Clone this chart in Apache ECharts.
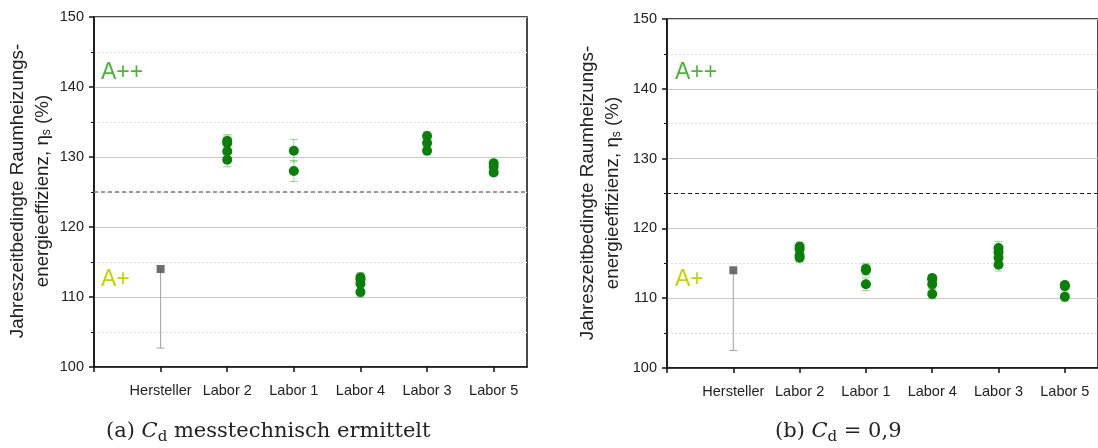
<!DOCTYPE html>
<html><head><meta charset="utf-8">
<script src="https://cdn.jsdelivr.net/npm/echarts@6/dist/echarts.min.js"></script>
<style>html,body{margin:0;padding:0;background:#fff}#c{width:1098px;height:448px}</style>
</head><body><div id="c"></div>
<script>
// ---- data ----
const categories = ['Hersteller', 'Labor 2', 'Labor 1', 'Labor 4', 'Labor 3', 'Labor 5'];
const yTicks = [100, 110, 120, 130, 140, 150];
const threshold = 125;

// Panel (a): Cd messtechnisch ermittelt
const herstellerA = 114.0;
const herstellerLowA = 102.7;
const labValuesA = [
  [132.3, 132.0, 130.8, 129.6], // Labor 2
  [130.9, 128.0],               // Labor 1
  [112.8, 112.5, 111.9, 110.7], // Labor 4
  [133.0, 132.0, 130.9],        // Labor 3
  [129.1, 128.6, 127.8]         // Labor 5
];
const labErrA = [
  [0.9, 1.0, 1.0, 1.0],
  [1.6, 1.5],
  [0.7, 0.7, 0.8, 0.7],
  [0.6, 0.6, 0.6],
  [0.5, 0.5, 0.5]
];

// Panel (b): Cd = 0,9
const herstellerB = 114.0;
const herstellerLowB = 102.5;
const labValuesB = [
  [117.4, 117.0, 116.1, 115.8], // Labor 2
  [114.2, 114.0, 112.0],        // Labor 1
  [112.9, 112.7, 112.0, 110.6], // Labor 4
  [117.2, 116.6, 115.8, 114.8], // Labor 3
  [111.9, 111.7, 110.2]         // Labor 5
];
const labErrB = [
  [0.6, 0.6, 0.6, 0.6],
  [0.8, 0.8, 0.9],
  [0.5, 0.5, 0.6, 0.7],
  [0.9, 0.9, 0.9, 0.9],
  [0.5, 0.5, 0.7]
];

// ---- build ----
const chart = echarts.init(document.getElementById('c'));
const FONT = '"Liberation Sans", Arial, sans-serif';

function labPoints(vals) {
  const out = [];
  vals.forEach((arr, i) => arr.forEach(v => out.push([i + 2, v])));
  return out;
}
function labErrors(vals, errs) {
  const out = [];
  vals.forEach((arr, i) => arr.forEach((v, j) => out.push([i + 2, v - errs[i][j], v + errs[i][j]])));
  return out;
}
function errRender(color, capTop) {
  return function (params, api) {
    const x = api.value(0), lo = api.value(1), hi = api.value(2);
    const pLo = api.coord([x, lo]), pHi = api.coord([x, hi]);
    const w = 4;
    const style = { stroke: color, lineWidth: 1 };
    const children = [
      { type: 'line', shape: { x1: pLo[0], y1: pLo[1], x2: pHi[0], y2: pHi[1] }, style },
      { type: 'line', shape: { x1: pLo[0] - w, y1: pLo[1], x2: pLo[0] + w, y2: pLo[1] }, style }
    ];
    if (capTop) children.push({ type: 'line', shape: { x1: pHi[0] - w, y1: pHi[1], x2: pHi[0] + w, y2: pHi[1] }, style });
    return { type: 'group', children };
  };
}

const grids = [
  { left: 94, top: 17, width: 433, height: 350 },
  { left: 667, top: 19, width: 436, height: 349 }
];

function xAxis(idx) {
  return {
    type: 'value', gridIndex: idx, min: 0, max: 6.5, interval: 1,
    axisLine: { show: true, lineStyle: { color: '#111', width: 1.5 } },
    axisTick: { show: true, inside: false, length: 5, lineStyle: { color: '#111', width: 1.5 } },
    axisLabel: {
      margin: 16, fontFamily: FONT, fontSize: 14.5, color: '#222', showMaxLabel: false,
      formatter: v => (v >= 1 && v <= categories.length && Number.isInteger(v)) ? categories[v - 1] : ''
    },
    splitLine: { show: false }
  };
}
function yAxis(idx) {
  return {
    type: 'value', gridIndex: idx, min: yTicks[0], max: yTicks[yTicks.length - 1], interval: yTicks[1] - yTicks[0],
    axisLine: { show: true, lineStyle: { color: '#111', width: 1.5 } },
    axisTick: { show: true, length: 5, lineStyle: { color: '#111', width: 1.5 } },
    minorTick: { show: true, splitNumber: 2, length: 3, lineStyle: { color: '#111', width: 1 } },
    axisLabel: { margin: 10, fontFamily: FONT, fontSize: 14.5, color: '#222' },
    splitLine: { show: true, lineStyle: { color: '#c8c8c8', width: 1 } },
    minorSplitLine: { show: true, lineStyle: { color: '#dedede', width: 1, type: [2, 2] } }
  };
}

function panelSeries(idx, hVal, hLow, vals, errs, dashColor, dashWidth) {
  return [
    {
      type: 'custom', xAxisIndex: idx, yAxisIndex: idx, silent: true, z: 2,
      renderItem: errRender('rgba(40,160,40,0.45)', true),
      data: labErrors(vals, errs)
    },
    {
      type: 'custom', xAxisIndex: idx, yAxisIndex: idx, silent: true, z: 2,
      renderItem: errRender('#a0a0a0', false),
      data: [[1, hLow, hVal]]
    },
    {
      type: 'scatter', xAxisIndex: idx, yAxisIndex: idx, z: 4,
      symbol: 'circle', symbolSize: 10,
      itemStyle: { color: '#0a7f0a', opacity: 1 },
      data: labPoints(vals),
      markLine: {
        silent: true, symbol: 'none', label: { show: false },
        lineStyle: { color: dashColor, width: dashWidth, type: [4, 3] },
        data: [{ yAxis: threshold }]
      }
    },
    {
      type: 'scatter', xAxisIndex: idx, yAxisIndex: idx, z: 4,
      symbol: 'rect', symbolSize: 8,
      itemStyle: { color: '#4a4a4a' },
      data: [[1, hVal]]
    }
  ];
}

const yName = '{a|Jahreszeitbedingte Raumheizungs-}\n{a|energieeffizienz, η}{s|s}{a| (%)}';
const yNameRich = {
  a: { fontFamily: FONT, fontSize: 18.8, lineHeight: 25, fill: '#222' },
  s: { fontFamily: FONT, fontSize: 12, lineHeight: 25, fill: '#222', padding: [9, 0, 0, 0] }
};
const SERIF = '"DejaVu Serif", serif';
const capRich = {
  r: { fontFamily: SERIF, fontSize: 21, fill: '#222' },
  i: { fontFamily: SERIF, fontSize: 21, fontStyle: 'italic', fill: '#222' },
  s: { fontFamily: SERIF, fontSize: 15, fill: '#222', padding: [10, 0, 0, 0] }
};

chart.setOption({
  animation: false,
  grid: grids.map(g => Object.assign({ show: true, borderColor: '#111', borderWidth: 1.5, backgroundColor: 'transparent' }, g)),
  xAxis: [xAxis(0), xAxis(1)],
  yAxis: [yAxis(0), yAxis(1)],
  series: [
    ...panelSeries(0, herstellerA, herstellerLowA, labValuesA, labErrA, '#7a7a7a', 1.5),
    ...panelSeries(1, herstellerB, herstellerLowB, labValuesB, labErrB, '#222', 1)
  ],
  graphic: [
    { type: 'text', x: 30, y: 191, rotation: Math.PI / 2, style: { text: yName, rich: yNameRich, align: 'center', verticalAlign: 'middle' } },
    { type: 'text', x: 600, y: 193, rotation: Math.PI / 2, style: { text: yName, rich: yNameRich, align: 'center', verticalAlign: 'middle' } },
    { type: 'text', x: 101, y: 73, style: { text: 'A++', font: '23px "Liberation Sans", Arial, sans-serif', fill: '#4cb338', verticalAlign: 'middle' } },
    { type: 'text', x: 101, y: 280, style: { text: 'A+', font: '23px "Liberation Sans", Arial, sans-serif', fill: '#c3d400', verticalAlign: 'middle' } },
    { type: 'text', x: 675, y: 73, style: { text: 'A++', font: '23px "Liberation Sans", Arial, sans-serif', fill: '#4cb338', verticalAlign: 'middle' } },
    { type: 'text', x: 675, y: 280, style: { text: 'A+', font: '23px "Liberation Sans", Arial, sans-serif', fill: '#c3d400', verticalAlign: 'middle' } },
    { type: 'text', x: 106, y: 432, style: { text: '{r|(a) }{i|C}{s|d}{r| messtechnisch ermittelt}', rich: capRich, verticalAlign: 'middle' } },
    { type: 'text', x: 775, y: 432, style: { text: '{r|(b) }{i|C}{s|d}{r| = 0,9}', rich: capRich, verticalAlign: 'middle' } }
  ]
});
</script></body></html>
